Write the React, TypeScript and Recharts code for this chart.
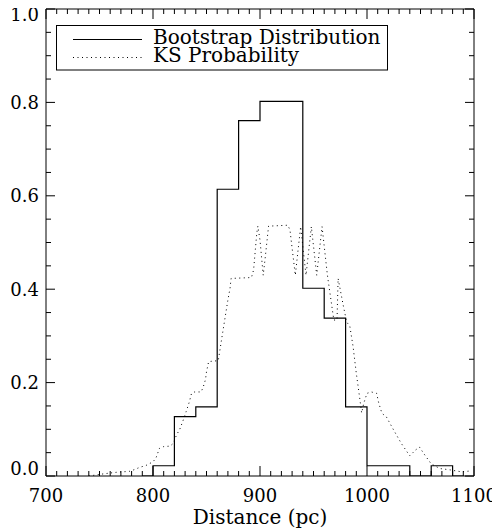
import React from 'react';
import { LineChart, Line, XAxis, YAxis, Label } from 'recharts';

// Bootstrap distribution histogram (bin left edges, step values)
const bootX = [790, 800, 820, 840, 860, 880, 900, 920, 940, 960, 980, 1000, 1020, 1040, 1060, 1080, 1090];
const bootY = [0, 0.022, 0.127, 0.148, 0.614, 0.761, 0.802, 0.802, 0.402, 0.338, 0.148, 0.022, 0.022, 0, 0.022, 0, 0];

// KS probability curve
const ksX = [740, 755, 766, 778, 783, 788, 793, 797, 800, 803, 806, 810, 816, 819, 822, 825, 828, 831, 834, 836, 839, 845, 847, 849, 850, 852, 861, 864, 867, 870, 872, 873, 892, 894, 897, 898, 900, 903, 905, 908, 926, 928, 933, 938, 943, 948, 953, 958, 963, 969, 972, 973, 978, 981, 984, 987, 990, 993, 995, 997, 1000, 1004, 1009, 1011, 1014, 1018, 1025, 1032, 1040, 1045, 1049, 1054, 1060, 1068, 1078, 1088, 1098];
const ksY = [0, 0.005, 0.008, 0.01, 0.014, 0.019, 0.022, 0.027, 0.03, 0.04, 0.059, 0.063, 0.064, 0.07, 0.088, 0.1, 0.118, 0.138, 0.159, 0.177, 0.18, 0.18, 0.191, 0.206, 0.223, 0.245, 0.247, 0.291, 0.334, 0.377, 0.402, 0.423, 0.425, 0.441, 0.52, 0.535, 0.505, 0.43, 0.47, 0.535, 0.537, 0.527, 0.43, 0.534, 0.43, 0.534, 0.43, 0.534, 0.43, 0.334, 0.334, 0.423, 0.363, 0.33, 0.32, 0.277, 0.22, 0.17, 0.135, 0.156, 0.177, 0.18, 0.177, 0.156, 0.134, 0.127, 0.098, 0.07, 0.043, 0.055, 0.062, 0.045, 0.026, 0.016, 0.013, 0.009, 0.011];

const xMajorTicks = [700, 800, 900, 1000, 1100];
const yMajorTicks = [0, 0.2, 0.4, 0.6, 0.8, 1.0];
const seriesNames = ['Bootstrap Distribution', 'KS Probability'];
const xTitle = 'Distance (pc)';

const bootData = bootX.map((x, i) => ({ x, y: bootY[i] }));
const ksData = ksX.map((x, i) => ({ x, y: ksY[i] }));

const xTicks: number[] = [];
for (let i = 0; i <= 40; i++) xTicks.push(700 + i * 10);
const yTicks: number[] = [];
for (let i = 0; i <= 20; i++) yTicks.push(Math.round(i * 5) / 100);

const FONT = '"DejaVu Serif", serif';
const isXMajor = (v: number) => xMajorTicks.includes(v);
const isYMajor = (v: number) => yMajorTicks.some((t) => Math.abs(t - v) < 1e-6);

const BottomTick = (p: any) => {
  const { x, y, payload } = p;
  const major = isXMajor(payload.value);
  return (
    <g>
      <line x1={x} x2={x} y1={y} y2={y - (major ? 10 : 5)} stroke="#000" strokeWidth={1} />
      {major && (
        <text x={x} y={y + 25.5} textAnchor="middle" fontFamily={FONT} fontSize={18} fill="#000">
          {payload.value}
        </text>
      )}
    </g>
  );
};

const TopTick = (p: any) => {
  const { x, y, payload } = p;
  const major = isXMajor(payload.value);
  return <line x1={x} x2={x} y1={y} y2={y + (major ? 10 : 5)} stroke="#000" strokeWidth={1} />;
};

const LeftTick = (p: any) => {
  const { x, y, payload } = p;
  const v = payload.value;
  const major = isYMajor(v);
  let dy = 0;
  if (Math.abs(v) < 1e-6) dy = -8;
  if (Math.abs(v - 1) < 1e-6) dy = 5;
  return (
    <g>
      <line x1={x} x2={x + (major ? 9 : 5)} y1={y} y2={y} stroke="#000" strokeWidth={1} />
      {major && (
        <text x={x - 7} y={y + dy} dominantBaseline="central" textAnchor="end" fontFamily={FONT} fontSize={18} fill="#000">
          {v.toFixed(1)}
        </text>
      )}
    </g>
  );
};

const RightTick = (p: any) => {
  const { x, y, payload } = p;
  const major = isYMajor(payload.value);
  return <line x1={x} x2={x - (major ? 9 : 5)} y1={y} y2={y} stroke="#000" strokeWidth={1} />;
};

const XTitle = (p: any) => {
  const vb = p.viewBox || {};
  return (
    <text x={vb.x + vb.width / 2} y={vb.y + 48} textAnchor="middle" fontFamily={FONT} fontSize={20} fill="#000">
      {xTitle}
    </text>
  );
};

export default function App() {
  return (
    <div style={{ position: 'relative', width: 500, height: 529, margin: '-8px 0 0 -8px', background: '#fff', fontFamily: FONT }}>
      <style>{'.recharts-surface{overflow:visible}'}</style>
      <LineChart width={500} height={529} margin={{ top: 0, right: 0, bottom: 0, left: 0 }}>
        <XAxis
          dataKey="x"
          type="number"
          domain={[700, 1100]}
          ticks={xTicks}
          interval={0}
          tick={BottomTick}
          tickLine={false}
          tickSize={0}
          tickMargin={0}
          height={53}
          axisLine={{ stroke: '#000', strokeWidth: 1 }}
          allowDataOverflow
        >
          <Label content={XTitle} />
        </XAxis>
        <XAxis
          xAxisId="top"
          orientation="top"
          dataKey="x"
          type="number"
          domain={[700, 1100]}
          ticks={xTicks}
          interval={0}
          tick={TopTick}
          tickLine={false}
          tickSize={0}
          tickMargin={0}
          height={9}
          axisLine={{ stroke: '#000', strokeWidth: 1 }}
          allowDataOverflow
        />
        <YAxis
          type="number"
          domain={[0, 1]}
          ticks={yTicks}
          interval={0}
          tick={LeftTick}
          tickLine={false}
          tickSize={0}
          tickMargin={0}
          width={46}
          axisLine={{ stroke: '#000', strokeWidth: 1 }}
          allowDataOverflow
        />
        <YAxis
          yAxisId="right"
          orientation="right"
          type="number"
          domain={[0, 1]}
          ticks={yTicks}
          interval={0}
          tick={RightTick}
          tickLine={false}
          tickSize={0}
          tickMargin={0}
          width={26}
          axisLine={{ stroke: '#000', strokeWidth: 1 }}
          allowDataOverflow
        />
        <Line
          data={ksData}
          dataKey="y"
          type="linear"
          stroke="#000"
          strokeWidth={1}
          strokeDasharray="1 3.5"
          dot={false}
          activeDot={false}
          isAnimationActive={false}
        />
        <Line
          data={bootData}
          dataKey="y"
          type="stepAfter"
          stroke="#000"
          strokeWidth={1.2}
          dot={false}
          activeDot={false}
          isAnimationActive={false}
        />
      </LineChart>
      <svg
        width={500}
        height={529}
        style={{ position: 'absolute', left: 0, top: 0, pointerEvents: 'none' }}
      >
        <rect x={56.5} y={25.5} width={331} height={44.5} fill="#fff" stroke="#000" strokeWidth={1} />
        <line x1={73} x2={142} y1={39.5} y2={39.5} stroke="#000" strokeWidth={1.2} />
        <line x1={73} x2={142} y1={57.5} y2={57.5} stroke="#000" strokeWidth={1} strokeDasharray="1 3.5" />
        <text x={153} y={43.5} fontFamily={FONT} fontSize={20} fill="#000">{seriesNames[0]}</text>
        <text x={153} y={61.5} fontFamily={FONT} fontSize={20} fill="#000">{seriesNames[1]}</text>
      </svg>
    </div>
  );
}
